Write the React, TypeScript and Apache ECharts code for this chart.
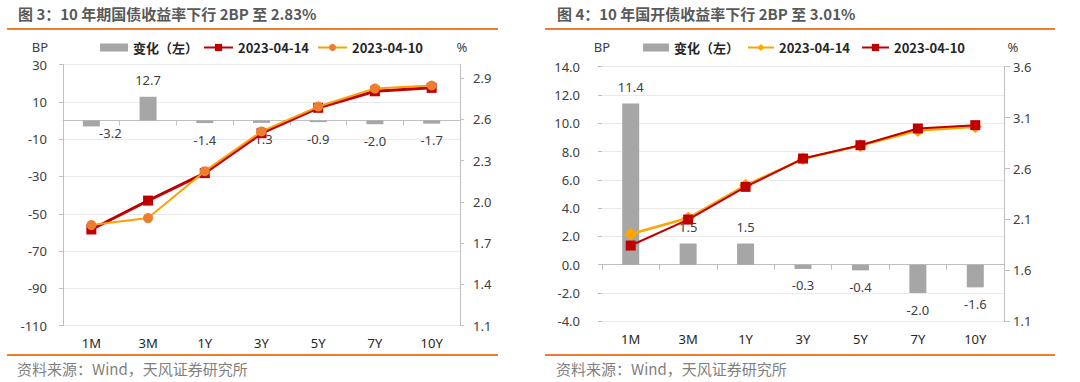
import React, { useEffect, useRef } from "react";
import * as echarts from "echarts";

// ---------------- data ----------------
const categories = ["1M", "3M", "1Y", "3Y", "5Y", "7Y", "10Y"];

// 图3：10年期国债
const govChange = [-3.2, 12.7, -1.4, -1.3, -0.9, -2.0, -1.7];
const gov0414 = [1.8, 2.01, 2.21, 2.5, 2.685, 2.805, 2.83];
const gov0410 = [1.832, 1.883, 2.224, 2.513, 2.694, 2.825, 2.847];
const govLeftTicks = [-110, -90, -70, -50, -30, -10, 10, 30];
const govRightTicks = [1.1, 1.4, 1.7, 2.0, 2.3, 2.6, 2.9];
const govRightMax = 3.0;

// 图4：10年国开债
const cdbChange = [11.4, 1.5, 1.5, -0.3, -0.4, -2.0, -1.6];
const cdb0414 = [1.958, 2.114, 2.435, 2.695, 2.825, 2.973, 3.01];
const cdb0410 = [1.844, 2.099, 2.42, 2.698, 2.829, 2.993, 3.026];
const cdbLeftTicks = [-4, -2, 0, 2, 4, 6, 8, 10, 12, 14];
const cdbRightTicks = [1.1, 1.6, 2.1, 2.6, 3.1, 3.6];

const FONT = '"Noto Sans", "Noto Sans CJK SC", sans-serif';
const CJK = '"Noto Sans CJK SC", "Noto Sans", sans-serif';
const ORANGE_RULE = "#ed7d31";
const BAR_NAME = "变化（左）";

type LineCfg = {
  name: string;
  data: number[];
  color: string;
  markerColor: string;
  symbol: string;
  symbolSize: number;
  width: number;
};

type ChartCfg = {
  title: string;
  change: number[];
  lines: LineCfg[];
  grid: { left: number; right: number; top: number; bottom: number };
  leftTicks: number[];
  leftDecimals: number;
  leftMargin: number;
  leftLine: boolean;
  rightTicks: number[];
  rightMax: number;
  rightMargin: number;
  rightTickLen: number;
  legendLefts: number[];
  legendWidths: number[];
  bpX: number;
  pctX: number;
  ruleX1: number;
  ruleX2: number;
  titleX: number;
  sourceX: number;
  labelOverrides: Record<number, { distance?: number; offset?: number[] }>;
};

function buildOption(c: ChartCfg): any {
  const lMin = c.leftTicks[0];
  const lMax = c.leftTicks[c.leftTicks.length - 1];
  const lInt = c.leftTicks[1] - c.leftTicks[0];
  const rMin = c.rightTicks[0];
  const rInt = +(c.rightTicks[1] - c.rightTicks[0]).toFixed(4);
  const rLastTick = c.rightTicks[c.rightTicks.length - 1];

  const barData = c.change.map((v, i) => {
    const ov = c.labelOverrides[i] || {};
    return {
      value: v,
      label: {
        position: v < 0 ? "bottom" : "top",
        distance: ov.distance ?? 10,
        offset: ov.offset ?? [0, 0],
      },
    };
  });

  const legendCommon = {
    top: 41,
    padding: 0,
    selectedMode: false,
    itemHeight: 9,
    textStyle: { fontFamily: CJK, fontSize: 13, fontWeight: "bold", color: "#262626" },
  };

  return {
    animation: false,
    backgroundColor: "#ffffff",
    textStyle: { fontFamily: FONT },
    grid: { ...c.grid, containLabel: false },
    legend: [
      { ...legendCommon, data: [{ name: BAR_NAME, icon: "rect" }], left: c.legendLefts[0], itemWidth: c.legendWidths[0], itemHeight: 8 },
      { ...legendCommon, data: [c.lines[0].name], left: c.legendLefts[1], itemWidth: c.legendWidths[1] },
      { ...legendCommon, data: [c.lines[1].name], left: c.legendLefts[2], itemWidth: c.legendWidths[2] },
    ],
    xAxis: [
      {
        type: "category",
        data: categories,
        position: "bottom",
        axisLine: { show: false, onZero: false },
        axisTick: { show: false },
        axisLabel: { color: "#262626", fontSize: 13, margin: 11, fontFamily: FONT },
        splitLine: { show: false },
      },
      {
        type: "category",
        data: categories,
        position: "bottom",
        axisLine: { show: true, onZero: true, onZeroAxisIndex: 0, lineStyle: { color: "#bfbfbf", width: 1 } },
        axisTick: { show: true, length: 5, lineStyle: { color: "#bfbfbf" } },
        axisLabel: { show: false },
        splitLine: { show: false },
      },
    ],
    yAxis: [
      {
        type: "value",
        position: "left",
        min: lMin,
        max: lMax,
        interval: lInt,
        axisLine: { show: c.leftLine, lineStyle: { color: "#bfbfbf" } },
        axisTick: { show: true, length: 4, lineStyle: { color: "#bfbfbf" } },
        axisLabel: {
          color: "#404040",
          fontSize: 13,
          margin: c.leftMargin,
          fontFamily: FONT,
          formatter: (v: number) => v.toFixed(c.leftDecimals),
        },
        splitLine: { show: true, lineStyle: { color: "#e9e9e9", width: 1 } },
      },
      {
        type: "value",
        position: "right",
        min: rMin,
        max: c.rightMax,
        interval: rInt,
        axisLine: { show: true, lineStyle: { color: "#bfbfbf" } },
        axisTick: { show: true, length: c.rightTickLen, lineStyle: { color: "#bfbfbf" } },
        axisLabel: {
          color: "#404040",
          fontSize: 13,
          margin: c.rightMargin,
          fontFamily: FONT,
          showMaxLabel: c.rightMax === rLastTick,
          formatter: (v: number) => (v > rLastTick + rInt / 10 ? "" : v.toFixed(1)),
        },
        splitLine: { show: false },
      },
    ],
    series: [
      {
        name: BAR_NAME,
        type: "bar",
        xAxisIndex: 0,
        yAxisIndex: 0,
        barWidth: 17,
        data: barData,
        itemStyle: { color: "#a6a6a6" },
        label: {
          show: true,
          color: "#404040",
          fontSize: 13,
          fontFamily: FONT,
          formatter: (p: any) => Number(p.value).toFixed(1),
        },
        z: 1,
      },
      ...c.lines.map((l, i) => ({
        name: l.name,
        type: "line",
        xAxisIndex: 0,
        yAxisIndex: 1,
        data: l.data,
        symbol: l.symbol,
        symbolSize: l.symbolSize,
        showSymbol: true,
        showAllSymbol: true,
        lineStyle: { color: l.color, width: l.width },
        itemStyle: { color: l.markerColor, borderWidth: 0 },
        z: 3 + i,
      })),
    ],
    graphic: [
      {
        type: "text",
        left: c.titleX,
        top: 6,
        style: { text: c.title, font: `bold 15px ${CJK}`, fill: "#595959" },
      },
      {
        type: "line",
        shape: { x1: c.ruleX1, y1: 29, x2: c.ruleX2, y2: 29 },
        style: { stroke: ORANGE_RULE, lineWidth: 2 },
      },
      {
        type: "line",
        shape: { x1: c.ruleX1, y1: 355, x2: c.ruleX2, y2: 355 },
        style: { stroke: ORANGE_RULE, lineWidth: 2 },
      },
      {
        type: "text",
        left: c.sourceX,
        top: 361,
        style: { text: "资料来源：Wind，天风证券研究所", font: `15px ${CJK}`, fill: "#7f7f7f" },
      },
      {
        type: "text",
        x: c.bpX,
        y: 47,
        style: { text: "BP", font: `13px ${FONT}`, fill: "#404040", align: "center", verticalAlign: "middle" },
      },
      {
        type: "text",
        x: c.pctX,
        y: 47,
        style: { text: "%", font: `13px ${FONT}`, fill: "#404040", align: "center", verticalAlign: "middle" },
      },
    ],
  };
}

const govCfg: ChartCfg = {
  title: "图 3：10 年期国债收益率下行 2BP 至 2.83%",
  change: govChange,
  lines: [
    { name: "2023-04-14", data: gov0414, color: "#c00000", markerColor: "#c00000", symbol: "rect", symbolSize: 10, width: 3 },
    { name: "2023-04-10", data: gov0410, color: "#ffa000", markerColor: "#ed7d31", symbol: "circle", symbolSize: 10, width: 2 },
  ],
  grid: { left: 63, right: 80, top: 64.5, bottom: 56.3 },
  leftTicks: govLeftTicks,
  leftDecimals: 0,
  leftMargin: 16,
  leftLine: true,
  rightTicks: govRightTicks,
  rightMax: govRightMax,
  rightMargin: 13,
  rightTickLen: 4,
  legendLefts: [100, 203, 317],
  legendWidths: [28, 29, 29],
  bpX: 40,
  pctX: 462,
  ruleX1: 7,
  ruleX2: 498,
  titleX: 18,
  sourceX: 17,
  labelOverrides: { 0: { distance: 0, offset: [19, 0] } },
};

const cdbCfg: ChartCfg = {
  title: "图 4：10 年国开债收益率下行 2BP 至 3.01%",
  change: cdbChange,
  lines: [
    { name: "2023-04-14", data: cdb0414, color: "#ffa500", markerColor: "#ffa500", symbol: "diamond", symbolSize: 13, width: 2.5 },
    { name: "2023-04-10", data: cdb0410, color: "#c00000", markerColor: "#c00000", symbol: "rect", symbolSize: 10, width: 2 },
  ],
  grid: { left: 62, right: 76, top: 66.7, bottom: 60.7 },
  leftTicks: cdbLeftTicks,
  leftDecimals: 1,
  leftMargin: 22,
  leftLine: false,
  rightTicks: cdbRightTicks,
  rightMax: cdbRightTicks[cdbRightTicks.length - 1],
  rightMargin: 9,
  rightTickLen: 6,
  legendLefts: [103, 207, 321],
  legendWidths: [26, 26, 27],
  bpX: 62,
  pctX: 473,
  ruleX1: 5,
  ruleX2: 515,
  titleX: 17,
  sourceX: 16,
  labelOverrides: {},
};

function Chart({ cfg }: { cfg: ChartCfg }) {
  const ref = useRef<HTMLDivElement>(null);
  useEffect(() => {
    if (!ref.current) return;
    const chart = echarts.init(ref.current, undefined, { renderer: "svg" });
    chart.setOption(buildOption(cfg));
    return () => chart.dispose();
  }, [cfg]);
  return <div ref={ref} style={{ width: 540, height: 382 }} />;
}

export default function App() {
  return (
    <div
      style={{
        position: "absolute",
        left: 0,
        top: 0,
        width: 1080,
        height: 382,
        display: "flex",
        background: "#ffffff",
      }}
    >
      <Chart cfg={govCfg} />
      <Chart cfg={cdbCfg} />
    </div>
  );
}
